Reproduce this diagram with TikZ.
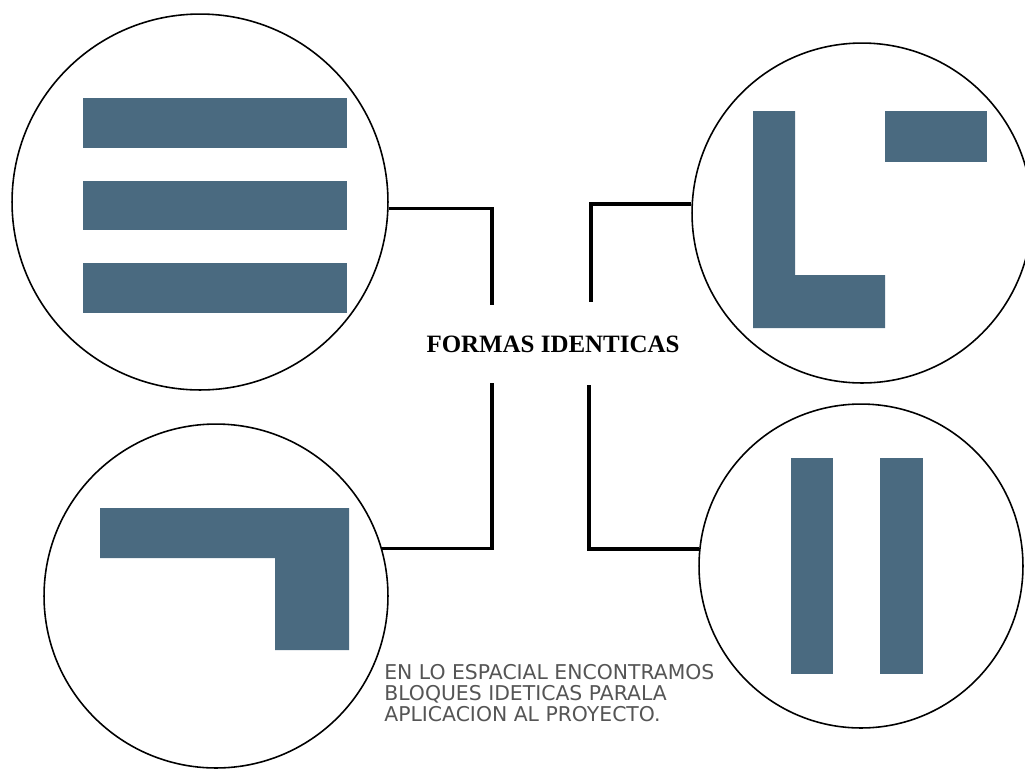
\documentclass[tikz,border=0pt]{standalone}
\usepackage{fontspec}
\setmainfont{Liberation Serif}
\newfontfamily\notefont{DejaVu Sans}
\usepackage{tikz}
\usetikzlibrary{positioning,calc}
\definecolor{slate}{RGB}{74,106,128}
\definecolor{notegray}{RGB}{85,85,85}
\begin{document}
\begin{tikzpicture}[
	x=0.02cm, y=-0.02cm,
	ring/.style={
		circle, draw, line width=0.9pt, inner sep=0pt
	},
	block/.style={
		fill=slate, draw=none
	},
	link/.style={line width=1.8pt, black}
	]
	\useasboundingbox (0,0) rectangle (1025,769);
	
	% circles
	\node[ring, minimum size=7.52cm] (rows) at (200,202) {};
	\node[ring, minimum size=6.80cm] (corner) at (862,213) {};
	\node[ring, minimum size=6.88cm] (hook) at (216,596) {};
	\node[ring, minimum size=6.48cm] (pillars) at (861,566) {};
	
	% three bars
	\fill[block] (83,98) rectangle (347,148);
	\fill[block] (83,181) rectangle (347,230);
	\fill[block] (83,263) rectangle (347,313);
	
	% L and small bar
	\fill[block] (753,111) -- (795,111) -- (795,275) -- (885,275) -- (885,328) -- (753,328) -- cycle;
	\fill[block] (885,111) rectangle (987,162);
	
	% hook
	\fill[block] (100,508) -- (349,508) -- (349,650) -- (275,650) -- (275,558) -- (100,558) -- cycle;
	
	% two pillars
	\fill[block] (791,458) rectangle (833,674);
	\fill[block] (880,458) rectangle (923,674);
	
	% title
	\node[anchor=base, font=\bfseries\fontsize{14.2}{16}\selectfont] (title) at (553,352) {FORMAS IDENTICAS};
	
	% note
	\node[anchor=base west, inner sep=0pt, align=left, text=notegray,
		font=\notefont\fontsize{11.6}{11.9}\selectfont] (note) at (384,721)
		{EN LO ESPACIAL ENCONTRAMOS\\BLOQUES IDETICAS PARALA\\APLICACION AL PROYECTO.};
	
	% connector ends
	\coordinate (rowsEnd) at (492,305);
	\coordinate (cornerEnd) at (591,302);
	\coordinate (hookEnd) at (492,383);
	\coordinate (pillarsEnd) at (589,385);
	
	% connectors
	\draw[link] (rows.-2) -| (rowsEnd);
	\draw[link] (corner.177) -| (cornerEnd);
	\draw[link] (hook.16) -| (hookEnd);
	\draw[link] (pillars.174) -| (pillarsEnd);
\end{tikzpicture}
\end{document}
